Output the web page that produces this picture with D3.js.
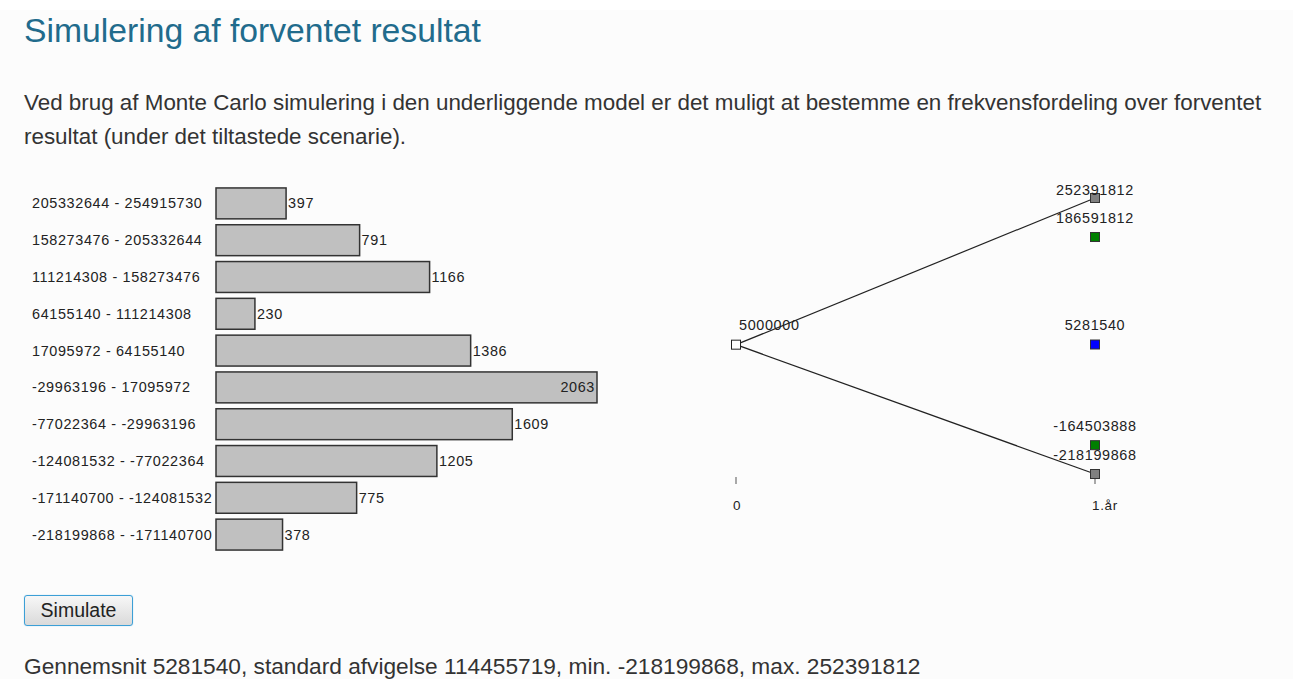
<!DOCTYPE html>
<html>
<head>
<meta charset="utf-8">
<script src="https://cdn.jsdelivr.net/npm/d3@7"></script>
<style>
  html, body { margin: 0; padding: 0; background: #fff; }
  body { width: 1293px; height: 679px; overflow: hidden; position: relative; font-family: "Liberation Sans", Arial, sans-serif; }
  #page { position: absolute; left: 0; top: 10px; width: 1293px; height: 669px; background: #fcfcfc; }
  h2 { position: absolute; left: 24px; top: 11px; margin: 0; font-weight: normal; font-size: 33.7px; line-height: normal; color: #216b8c; }
  p.intro { position: absolute; left: 24px; top: 86px; margin: 0; width: 1268px; font-size: 22.4px; line-height: 34px; color: #333; }
  #chart { position: absolute; left: 0; top: 0; }
  button { position: absolute; left: 24px; top: 595px; width: 109px; height: 31px; font-family: "Liberation Sans", Arial, sans-serif; font-size: 19.5px; color: #222;
    border: 1px solid #3c9fd6; border-radius: 3px; background: linear-gradient(#f7f7f7, #dadada); padding: 0; box-shadow: 0 0 1px #7cc0ea; }
  #stats { position: absolute; left: 24px; top: 653px; margin: 0; font-size: 22.7px; color: #333; white-space: nowrap; }
</style>
</head>
<body>
<div id="page"></div>
<h2>Simulering af forventet resultat</h2>
<p class="intro">Ved brug af Monte Carlo simulering i den underliggende model er det muligt at bestemme en frekvensfordeling over forventet resultat (under det tiltastede scenarie).</p>
<svg id="chart" width="1293" height="679"></svg>
<button>Simulate</button>
<p id="stats"></p>
<script>
  // histogram buckets, top to bottom
  const buckets = [
    "205332644 - 254915730",
    "158273476 - 205332644",
    "111214308 - 158273476",
    "64155140 - 111214308",
    "17095972 - 64155140",
    "-29963196 - 17095972",
    "-77022364 - -29963196",
    "-124081532 - -77022364",
    "-171140700 - -124081532",
    "-218199868 - -171140700"
  ];
  const counts = [397, 791, 1166, 230, 1386, 2063, 1609, 1205, 775, 378];

  // scenario tree
  const periods = ["0", "1.år"];
  const startValue = 5000000;
  const endNodes = [
    { value: 252391812, color: "#808080" },
    { value: 186591812, color: "#008000" },
    { value: 5281540, color: "#0000ff" },
    { value: -164503888, color: "#008000" },
    { value: -218199868, color: "#808080" }
  ];
  const stats = { mean: 5281540, sd: 114455719, min: -218199868, max: 252391812 };

  const svg = d3.select("#chart");
  const labelFont = { size: 14.4, spacing: 0.65 };

  // ---- histogram ----
  const y = d3.scaleBand()
    .domain(buckets)
    .range([185, 553])
    .paddingInner(0.16)
    .paddingOuter(0.08);

  const barLeft = 216;
  const x = d3.scaleLinear()
    .domain([0, d3.max(counts)])
    .range([212, 597]);

  const maxCount = d3.max(counts);
  const hist = svg.append("g")
    .attr("font-size", labelFont.size)
    .attr("letter-spacing", labelFont.spacing)
    .attr("fill", "#222");

  hist.selectAll("text.cat")
    .data(buckets)
    .join("text")
    .attr("class", "cat")
    .attr("x", 32)
    .attr("y", d => y(d) + y.bandwidth() / 2)
    .attr("dy", "0.35em")
    .text(d => d);

  hist.selectAll("rect")
    .data(counts)
    .join("rect")
    .attr("x", barLeft)
    .attr("y", (d, i) => y(buckets[i]))
    .attr("width", d => x(d) - barLeft)
    .attr("height", y.bandwidth())
    .attr("fill", "#c0c0c0")
    .attr("stroke", "#333")
    .attr("stroke-width", 1.5);

  hist.selectAll("text.val")
    .data(counts)
    .join("text")
    .attr("class", "val")
    .attr("x", d => d === maxCount ? x(d) - 2 : x(d) + 2)
    .attr("text-anchor", d => d === maxCount ? "end" : "start")
    .attr("y", (d, i) => y(buckets[i]) + y.bandwidth() / 2)
    .attr("dy", "0.35em")
    .text(d => d);

  // ---- scenario tree ----
  const tx = d3.scalePoint().domain(periods).range([736, 1095]);
  const ty = d3.scaleLinear()
    .domain([d3.min(endNodes, d => d.value), d3.max(endNodes, d => d.value)])
    .range([477, 198]);
  const nodeBottom = 474, labelTop = 190;
  const nodeY = v => Math.min(ty(v), nodeBottom);

  const tree = svg.append("g")
    .attr("font-size", labelFont.size)
    .attr("letter-spacing", labelFont.spacing)
    .attr("fill", "#222");
  const x0 = tx(periods[0]), x1 = tx(periods[1]);
  const extremes = [d3.max(endNodes, d => d.value), d3.min(endNodes, d => d.value)];

  tree.selectAll("line.branch")
    .data(extremes)
    .join("line")
    .attr("class", "branch")
    .attr("x1", x0).attr("y1", nodeY(startValue))
    .attr("x2", x1).attr("y2", d => nodeY(d))
    .attr("stroke", "#222")
    .attr("stroke-width", 1.2);

  // axis ticks
  tree.selectAll("line.tick")
    .data(periods)
    .join("line")
    .attr("class", "tick")
    .attr("x1", d => tx(d)).attr("x2", d => tx(d))
    .attr("y1", 477).attr("y2", 484)
    .attr("stroke", "#555");

  tree.selectAll("text.period")
    .data(periods)
    .join("text")
    .attr("class", "period")
    .attr("x", d => tx(d) - 3)
    .attr("y", 510)
    .attr("font-size", 13.5)
    .text(d => d);

  const sq = 9;
  tree.append("rect")
    .attr("x", x0 - sq / 2).attr("y", nodeY(startValue) - sq / 2)
    .attr("width", sq).attr("height", sq)
    .attr("fill", "#fff").attr("stroke", "#222");
  tree.append("text")
    .attr("x", x0 + 3).attr("y", nodeY(startValue) - 19.5)
    .attr("dy", "0.35em")
    .text(startValue);

  tree.selectAll("rect.end")
    .data(endNodes)
    .join("rect")
    .attr("class", "end")
    .attr("x", x1 - sq / 2).attr("y", d => nodeY(d.value) - sq / 2)
    .attr("width", sq).attr("height", sq)
    .attr("fill", d => d.color).attr("stroke", "#333");

  tree.selectAll("text.endlab")
    .data(endNodes)
    .join("text")
    .attr("class", "endlab")
    .attr("x", x1)
    .attr("y", d => Math.max(nodeY(d.value) - 19.5, labelTop))
    .attr("dy", "0.35em")
    .attr("text-anchor", "middle")
    .text(d => d.value);

  d3.select("#stats").text(
    `Gennemsnit ${stats.mean}, standard afvigelse ${stats.sd}, min. ${stats.min}, max. ${stats.max}`
  );
</script>
</body>
</html>
